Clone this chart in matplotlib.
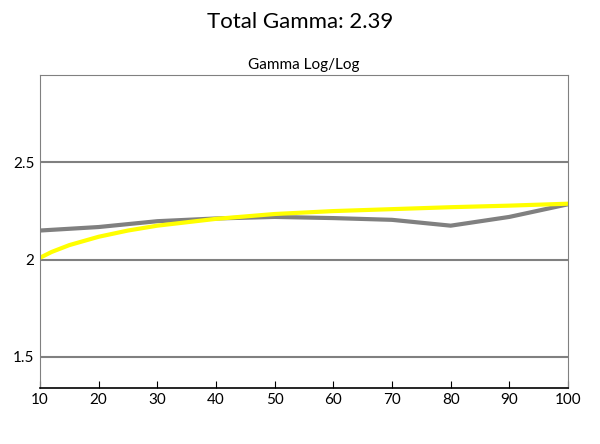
import matplotlib
matplotlib.use("Agg")
import matplotlib.pyplot as plt

x_gray = [10, 20, 30, 40, 50, 60, 70, 80, 90, 100]
y_gray = [2.15, 2.168, 2.198, 2.212, 2.22, 2.214, 2.205, 2.175, 2.22, 2.285]
x_yellow = [10, 12, 15, 20, 25, 30, 40, 50, 60, 70, 80, 90, 100]
y_yellow = [2.01, 2.04, 2.075, 2.118, 2.15, 2.175, 2.21, 2.235, 2.25, 2.26, 2.27, 2.278, 2.288]
yticks = [1.5, 2, 2.5]
xticks = [10, 20, 30, 40, 50, 60, 70, 80, 90, 100]

plt.rcParams['font.family'] = ['Lato', 'DejaVu Sans']
fig = plt.figure(figsize=(6, 4.44), dpi=100)
ax = fig.add_axes([40/600, 1-388/444, 528/600, 313/444])
ax.plot(x_gray, y_gray, color='#808080', lw=3)
ax.plot(x_yellow, y_yellow, color='#ffff00', lw=3)
ax.set_xlim(10, 100)
ax.set_ylim(1.34, 2.95)
ax.set_xticks(xticks)
ax.set_xticklabels([str(v) for v in xticks])
ax.set_yticks(yticks)
ax.set_yticklabels(['1.5', '2', '2.5'])
ax.yaxis.grid(True, color='#808080', lw=1.5)
ax.set_axisbelow(True)
for s in ax.spines.values():
    s.set_color('#808080')
ax.spines['bottom'].set_color('black')
ax.spines['bottom'].set_linewidth(1.2)
ax.tick_params(axis='y', length=0, labelsize=11, pad=4)
ax.tick_params(axis='x', length=5, direction='in', labelsize=11)
ax.set_title('Gamma Log/Log', fontsize=11, pad=4)
fig.text(0.5, 1-22/444, 'Total Gamma: 2.39', ha='center', va='center', fontsize=16)
fig.savefig('out.png')
